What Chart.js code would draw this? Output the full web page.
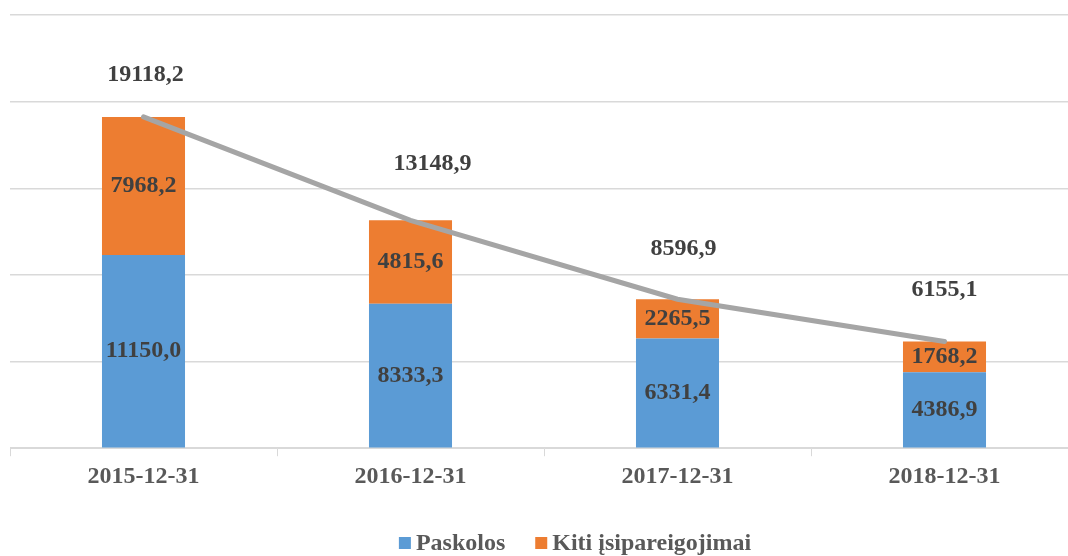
<!DOCTYPE html>
<html>
<head>
<meta charset="utf-8">
<script src="https://cdn.jsdelivr.net/npm/chart.js@4/dist/chart.umd.min.js"></script>
<style>
  html, body { margin: 0; padding: 0; background: #ffffff; overflow: hidden; }
  #wrap { width: 1080px; height: 556px; position: relative; }
</style>
</head>
<body>
<div id="wrap"><canvas id="chart"></canvas></div>
<script>
var categories = ["2015-12-31", "2016-12-31", "2017-12-31", "2018-12-31"];
var paskolos = [11150.0, 8333.3, 6331.4, 4386.9];
var kiti = [7968.2, 4815.6, 2265.5, 1768.2];
var totals = [19118.2, 13148.9, 8596.9, 6155.1];
// where each total label sits relative to its line point (px), as in the picture
var totalLabelLift = [42, 57, 50, 52];
var totalLabelShift = [2, 22, 6, 0];

function fmt(v) {
    return v.toFixed(1).replace(".", ",");
}

var serif = "'Liberation Serif', 'Times New Roman', serif";
var labelFont = "bold 24px " + serif;

var valueLabels = {
    id: "valueLabels",
    afterDatasetsDraw: function (chart) {
        var ctx = chart.ctx;
        ctx.save();
        ctx.font = labelFont;
        ctx.fillStyle = "#404040";
        ctx.textAlign = "center";
        ctx.textBaseline = "middle";
        [0, 1].forEach(function (di) {
            var meta = chart.getDatasetMeta(di);
            meta.data.forEach(function (bar, i) {
                var mid = (bar.y + bar.base) / 2;
                ctx.fillText(fmt(chart.data.datasets[di].data[i]), bar.x, mid);
            });
        });
        var lineMeta = chart.getDatasetMeta(2);
        lineMeta.data.forEach(function (pt, i) {
            ctx.fillText(fmt(totals[i]), pt.x + totalLabelShift[i], pt.y - totalLabelLift[i]);
        });
        ctx.restore();
    }
};

// legend drawn by hand so the box/text spacing matches the original
var bottomLegend = {
    id: "bottomLegend",
    afterDraw: function (chart) {
        var ctx = chart.ctx;
        var items = [0, 1].map(function (i) { return chart.data.datasets[i]; });
        ctx.save();
        ctx.font = labelFont;
        ctx.textBaseline = "middle";
        ctx.textAlign = "left";
        var box = 12, gapText = 5, gapItem = 30;
        var total = 0;
        items.forEach(function (ds, i) {
            total += box + gapText + ctx.measureText(ds.label).width;
            if (i > 0) total += gapItem;
        });
        var x = 575 - total / 2;
        var y = 543;
        items.forEach(function (ds) {
            ctx.fillStyle = ds.backgroundColor;
            ctx.fillRect(x, y - box / 2, box, box);
            x += box + gapText;
            ctx.fillStyle = "#595959";
            ctx.fillText(ds.label, x, y + 1);
            x += ctx.measureText(ds.label).width + gapItem;
        });
        ctx.restore();
    }
};

var ctx = document.getElementById("chart").getContext("2d");
new Chart(ctx, {
    type: "bar",
    data: {
        labels: categories,
        datasets: [{
            label: "Paskolos",
            data: paskolos,
            backgroundColor: "#5b9bd5",
            stack: "s",
            order: 2,
            barPercentage: 0.311,
            categoryPercentage: 1
        }, {
            label: "Kiti įsipareigojimai",
            data: kiti,
            backgroundColor: "#ed7d31",
            stack: "s",
            order: 2,
            barPercentage: 0.311,
            categoryPercentage: 1
        }, {
            type: "line",
            label: "Iš viso",
            data: totals,
            borderColor: "#a5a5a5",
            borderWidth: 5,
            pointRadius: 0,
            stack: "total",
            order: 0,
            borderCapStyle: "round"
        }]
    },
    options: {
        responsive: true,
        maintainAspectRatio: false,
        animation: false,
        layout: { padding: { top: 15, left: 10, right: 2, bottom: 59 } },
        plugins: {
            tooltip: { enabled: false },
            legend: { display: false }
        },
        scales: {
            x: {
                stacked: true,
                offset: true,
                grid: {
                    offset: true,
                    drawOnChartArea: false,
                    drawTicks: true,
                    tickLength: 8,
                    color: "#d9d9d9"
                },
                border: { color: "#d9d9d9", width: 1 },
                ticks: {
                    color: "#595959",
                    padding: 6,
                    font: { family: serif, size: 24, weight: "bold" }
                }
            },
            y: {
                stacked: true,
                min: 0,
                max: 25000,
                ticks: { display: false, stepSize: 5000 },
                grid: { color: "#d9d9d9", lineWidth: 1.5, drawTicks: false },
                border: { display: false }
            }
        }
    },
    plugins: [valueLabels, bottomLegend]
});
</script>
</body>
</html>
